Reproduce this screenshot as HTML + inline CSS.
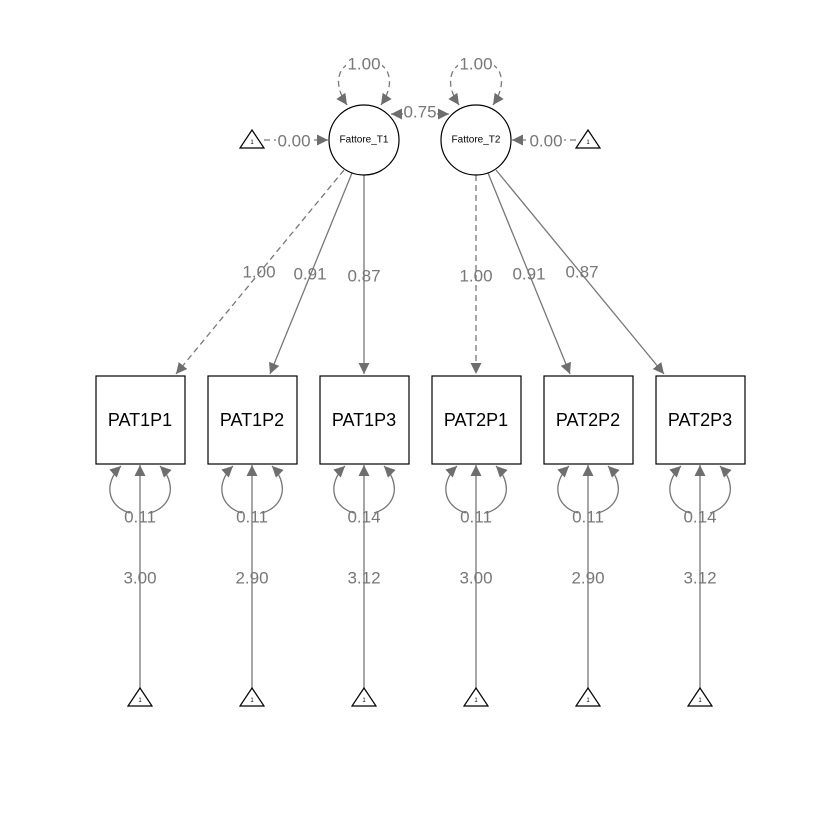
<!DOCTYPE html>
<html><head><meta charset="utf-8"><style>
html,body{margin:0;padding:0;background:#fff}
svg{display:block}
.l{stroke:#777;stroke-width:1.3;fill:none}
.d{stroke-dasharray:6,4}
.t{font-family:"Liberation Sans",sans-serif;font-size:17px;fill:#777;text-anchor:middle;dominant-baseline:central}
.b{font-family:"Liberation Sans",sans-serif;font-size:18px;fill:#000;text-anchor:middle;dominant-baseline:central}
.s{font-family:"Liberation Sans",sans-serif;font-size:10px;fill:#000;text-anchor:middle;dominant-baseline:central}
.u{font-family:"Liberation Sans",sans-serif;font-size:6px;fill:#000;text-anchor:middle;dominant-baseline:central}
.bx{fill:#fff;stroke:#000;stroke-width:1.2}
</style></head><body>
<svg width="840" height="840" viewBox="0 0 840 840">
<defs>
<marker id="a" viewBox="0 0 10 10" refX="10" refY="5" markerWidth="11" markerHeight="11" markerUnits="userSpaceOnUse" orient="auto-start-reverse"><path d="M0,0L10,5L0,10z" fill="#6e6e6e"/></marker>
</defs>
<line class="l d" x1="344" y1="170" x2="176" y2="374" marker-end="url(#a)"/>
<line class="l" x1="352" y1="173" x2="270" y2="374" marker-end="url(#a)"/>
<line class="l" x1="364" y1="175" x2="364" y2="374" marker-end="url(#a)"/>
<line class="l d" x1="476" y1="175" x2="476" y2="374" marker-end="url(#a)"/>
<line class="l" x1="488" y1="173" x2="570" y2="374" marker-end="url(#a)"/>
<line class="l" x1="496" y1="170" x2="664" y2="374" marker-end="url(#a)"/>
<text class="t" x="259" y="272">1.00</text>
<text class="t" x="310" y="274">0.91</text>
<text class="t" x="364" y="276">0.87</text>
<text class="t" x="476" y="276">1.00</text>
<text class="t" x="529" y="274">0.91</text>
<text class="t" x="582" y="272">0.87</text>
<path class="l d" d="M347,105 C330,80 340,60 364,60 C388,60 398,80 381,105" marker-start="url(#a)" marker-end="url(#a)"/>
<path class="l d" d="M459,105 C442,80 452,60 476,60 C500,60 510,80 493,105" marker-start="url(#a)" marker-end="url(#a)"/>
<rect x="346" y="55" width="36" height="18" fill="#fff"/>
<rect x="458" y="55" width="36" height="18" fill="#fff"/>
<text class="t" x="364" y="64">1.00</text>
<text class="t" x="476" y="64">1.00</text>
<line class="l" x1="391" y1="114" x2="449" y2="114" marker-start="url(#a)" marker-end="url(#a)"/>
<rect x="403" y="104" width="34" height="18" fill="#fff"/>
<text class="t" x="420" y="112">0.75</text>
<line class="l d" x1="264" y1="140" x2="328" y2="140" marker-end="url(#a)"/>
<line class="l d" x1="576" y1="140" x2="512" y2="140" marker-end="url(#a)"/>
<rect x="276" y="132" width="36" height="18" fill="#fff"/>
<rect x="528" y="132" width="36" height="18" fill="#fff"/>
<text class="t" x="294" y="141">0.00</text>
<text class="t" x="546" y="141">0.00</text>
<polygon points="252,130 240,148 264,148" class="bx"/>
<polygon points="588,130 576,148 600,148" class="bx"/>
<text class="u" x="252" y="143">1</text>
<text class="u" x="588" y="143">1</text>
<circle cx="364" cy="140" r="35" class="bx"/>
<circle cx="476" cy="140" r="35" class="bx"/>
<text class="s" x="364" y="140">Fattore_T1</text>
<text class="s" x="476" y="140">Fattore_T2</text>

<g transform="translate(140,0)">
<line class="l" x1="0" y1="688" x2="0" y2="465" marker-end="url(#a)"/>
<path class="l" d="M-10,513 C-34,506 -36,482 -19,466" marker-end="url(#a)"/>
<path class="l" d="M10,513 C34,506 36,482 20,466" marker-end="url(#a)"/>
<text class="t" x="0" y="517">0.11</text><text class="t" x="0" y="578">3.00</text>
<rect x="-44" y="376" width="89" height="88" class="bx"/><text class="b" x="0" y="420">PAT1P1</text>
<polygon points="0,688 -12,706 12,706" class="bx"/><text class="u" x="0" y="701">1</text>
</g>
<g transform="translate(252,0)">
<line class="l" x1="0" y1="688" x2="0" y2="465" marker-end="url(#a)"/>
<path class="l" d="M-10,513 C-34,506 -36,482 -19,466" marker-end="url(#a)"/>
<path class="l" d="M10,513 C34,506 36,482 20,466" marker-end="url(#a)"/>
<text class="t" x="0" y="517">0.11</text><text class="t" x="0" y="578">2.90</text>
<rect x="-44" y="376" width="89" height="88" class="bx"/><text class="b" x="0" y="420">PAT1P2</text>
<polygon points="0,688 -12,706 12,706" class="bx"/><text class="u" x="0" y="701">1</text>
</g>
<g transform="translate(364,0)">
<line class="l" x1="0" y1="688" x2="0" y2="465" marker-end="url(#a)"/>
<path class="l" d="M-10,513 C-34,506 -36,482 -19,466" marker-end="url(#a)"/>
<path class="l" d="M10,513 C34,506 36,482 20,466" marker-end="url(#a)"/>
<text class="t" x="0" y="517">0.14</text><text class="t" x="0" y="578">3.12</text>
<rect x="-44" y="376" width="89" height="88" class="bx"/><text class="b" x="0" y="420">PAT1P3</text>
<polygon points="0,688 -12,706 12,706" class="bx"/><text class="u" x="0" y="701">1</text>
</g>
<g transform="translate(476,0)">
<line class="l" x1="0" y1="688" x2="0" y2="465" marker-end="url(#a)"/>
<path class="l" d="M-10,513 C-34,506 -36,482 -19,466" marker-end="url(#a)"/>
<path class="l" d="M10,513 C34,506 36,482 20,466" marker-end="url(#a)"/>
<text class="t" x="0" y="517">0.11</text><text class="t" x="0" y="578">3.00</text>
<rect x="-44" y="376" width="89" height="88" class="bx"/><text class="b" x="0" y="420">PAT2P1</text>
<polygon points="0,688 -12,706 12,706" class="bx"/><text class="u" x="0" y="701">1</text>
</g>
<g transform="translate(588,0)">
<line class="l" x1="0" y1="688" x2="0" y2="465" marker-end="url(#a)"/>
<path class="l" d="M-10,513 C-34,506 -36,482 -19,466" marker-end="url(#a)"/>
<path class="l" d="M10,513 C34,506 36,482 20,466" marker-end="url(#a)"/>
<text class="t" x="0" y="517">0.11</text><text class="t" x="0" y="578">2.90</text>
<rect x="-44" y="376" width="89" height="88" class="bx"/><text class="b" x="0" y="420">PAT2P2</text>
<polygon points="0,688 -12,706 12,706" class="bx"/><text class="u" x="0" y="701">1</text>
</g>
<g transform="translate(700,0)">
<line class="l" x1="0" y1="688" x2="0" y2="465" marker-end="url(#a)"/>
<path class="l" d="M-10,513 C-34,506 -36,482 -19,466" marker-end="url(#a)"/>
<path class="l" d="M10,513 C34,506 36,482 20,466" marker-end="url(#a)"/>
<text class="t" x="0" y="517">0.14</text><text class="t" x="0" y="578">3.12</text>
<rect x="-44" y="376" width="89" height="88" class="bx"/><text class="b" x="0" y="420">PAT2P3</text>
<polygon points="0,688 -12,706 12,706" class="bx"/><text class="u" x="0" y="701">1</text>
</g>
</svg>
</body></html>
